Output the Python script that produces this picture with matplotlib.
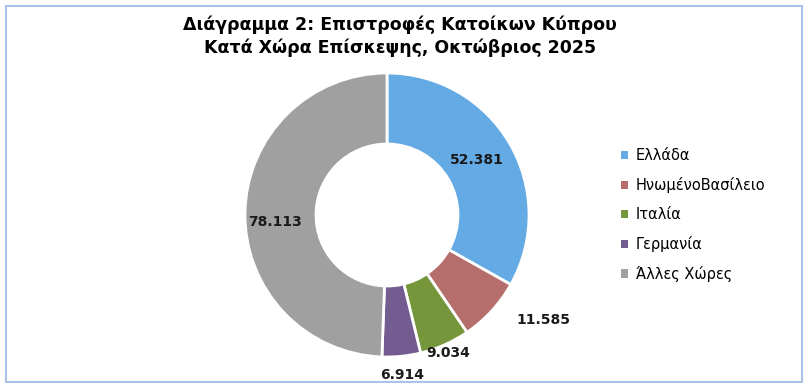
import numpy as np
import matplotlib.pyplot as plt
from matplotlib.patches import Rectangle, Patch

# data
countries = ['Ελλάδα', 'ΗνωμένοΒασίλειο', 'Ιταλία', 'Γερμανία', 'Άλλες Χώρες']
returns = [52381, 11585, 9034, 6914, 78113]
value_labels = ['52.381', '11.585', '9.034', '6.914', '78.113']
colors = ['#64aae4', '#b56e6b', '#76963c', '#735c8f', '#a0a0a0']

# label placement (radius in units of the outer radius, angle nudge in degrees)
lab_r = [0.74, 1.33, 1.06, 1.13, 0.79]
lab_nudge = [1.4, 8.7, -0.2, -0.4, 4.6]

W, H = 810, 390
cx, cy, R = 387, 215, 142   # centre and radius in pixels

fig = plt.figure(figsize=(W / 100, H / 100), dpi=100)
ax = fig.add_axes([0, 0, 1, 1])

wedges, _ = ax.pie(returns, colors=colors, startangle=90, counterclock=False,
                   radius=1, wedgeprops=dict(width=0.5, edgecolor='white', linewidth=2))

# pie() resets limits, so set them afterwards
ax.set_aspect('auto')
ax.set_xlim(-cx / R, (W - cx) / R)
ax.set_ylim((cy - H) / R, cy / R)
ax.axis('off')

total = sum(returns)
start = 90.0
for i, v in enumerate(returns):
    sweep = 360.0 * v / total
    mid = np.deg2rad(start - sweep / 2 + lab_nudge[i])
    ax.text(lab_r[i] * np.cos(mid), lab_r[i] * np.sin(mid), value_labels[i],
            ha='center', va='center', fontsize=10, fontweight='bold', color='#1a1a1a')
    start -= sweep

handles = [Patch(facecolor=c, edgecolor='none') for c in colors]
ax.legend(handles, countries, loc='center left', bbox_to_anchor=(621 / W, 1 - 215 / H),
          frameon=False, fontsize=10.5, handlelength=0.5, handleheight=0.5,
          handletextpad=0.5, labelspacing=0.95, borderaxespad=0, borderpad=0)

fig.text(400 / W, 1 - 25 / H, 'Διάγραμμα 2: Επιστροφές Κατοίκων Κύπρου',
         ha='center', va='center', fontsize=12.5, fontweight='bold')
fig.text(400 / W, 1 - 48 / H, 'Κατά Χώρα Επίσκεψης, Οκτώβριος 2025',
         ha='center', va='center', fontsize=12.5, fontweight='bold')

fig.patches.append(Rectangle((6 / W, 1 - 382 / H), 796 / W, 376 / H, transform=fig.transFigure,
                             fill=False, edgecolor='#a9c4e8', linewidth=1.5))

fig.savefig('out.png', dpi=100)
